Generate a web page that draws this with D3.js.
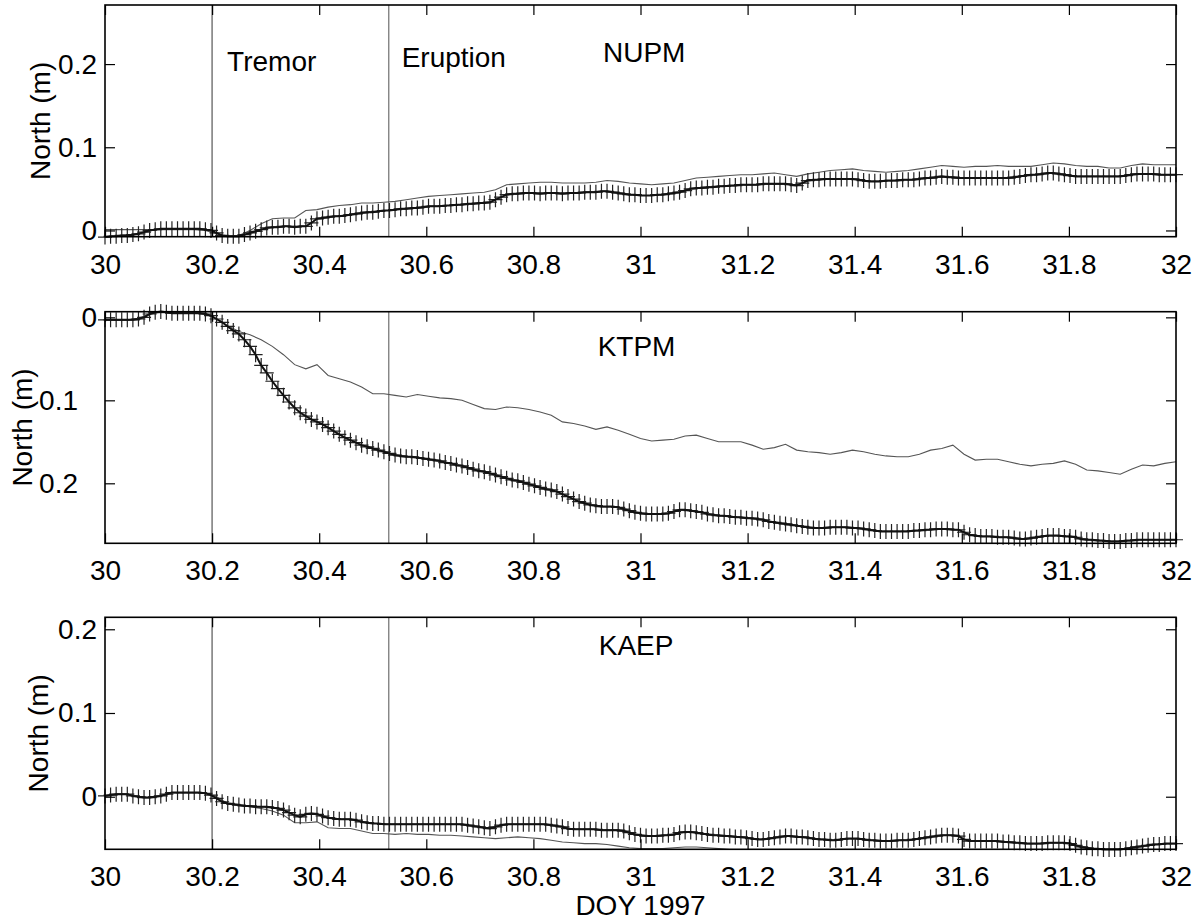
<!DOCTYPE html>
<html>
<head>
<meta charset="utf-8">
<script src="https://cdn.jsdelivr.net/npm/d3@7"></script>
<style>
body { margin: 0; background: #fff; }
text { font-family: "Liberation Sans", Arial, Helvetica, sans-serif; font-size: 28px; fill: #000; }
</style>
</head>
<body>
<div id="chart"></div>
<script>
// sampling of the two solutions, day of year 1997
const startDay = 30;
const markStep = 15 / 1440;   // "+" solution every 15 min
const lineStep = 30 / 1440;   // thin grey solution every 30 min

const eventDays = [30.2, 30.53];
const xTicks = [30, 30.2, 30.4, 30.6, 30.8, 31, 31.2, 31.4, 31.6, 31.8, 32];
const yTicks = [0, 0.1, 0.2];

// north displacement in mm (KTPM is shown on a reversed axis)
const nupmMarks = [-8,-7,-7,-6,-6,-5,-4,-2,0,1,2,2,
 2,2,2,2,2,2,1,0,-3,-6,-7,-7,
 -7,-5,-3,-1,1,3,4,4,5,5,4,5,
 5,9,14,15,16,17,17,18,19,20,21,22,
 22,23,24,24,25,26,26,27,27,28,29,29,
 29,30,30,31,31,32,32,33,33,34,37,40,
 43,44,44,45,45,45,44,45,45,45,44,45,
 45,45,46,46,46,47,47,46,45,44,43,43,
 42,42,42,43,43,44,45,46,48,50,51,51,
 52,52,53,53,54,54,55,55,55,55,56,56,
 56,56,56,55,54,57,60,61,61,62,62,62,
 62,62,62,61,60,59,59,59,60,60,60,61,
 61,61,62,63,63,64,65,64,64,63,63,63,
 63,63,63,63,63,63,63,64,65,66,67,67,
 68,69,69,68,67,66,65,65,65,65,65,65,
 65,65,65,66,67,68,68,68,68,67,67,67,67];
const nupmLine = [1,1,1,1,1,1,1,1,1,0,-4,-7,
 -6,0,8,14,15,15,24,25,28,30,31,33,
 33,34,35,37,39,41,42,43,44,45,46,49,
 55,56,57,58,58,57,57,57,58,60,59,57,
 56,55,56,57,60,63,64,65,66,67,67,68,
 69,67,65,68,70,72,73,74,72,71,70,71,
 72,74,76,78,77,76,77,77,78,77,77,77,
 79,81,80,78,77,77,75,75,78,80,79,79,79];

const ktpmMarks = [3,3,3,3,3,3,2,0,-4,-6,-7,-6,
 -5,-5,-5,-5,-5,-5,-4,-2,2,6,11,16,
 20,27,35,45,58,67,77,86,94,102,109,115,
 119,123,126,129,133,137,141,145,148,151,154,156,
 158,160,162,164,166,167,168,168,169,170,171,172,
 173,175,176,178,179,181,183,185,186,188,190,192,
 194,196,197,199,201,203,205,207,208,210,213,216,
 219,222,224,226,227,228,228,228,229,231,233,235,
 236,237,237,237,237,236,234,232,232,233,234,235,
 237,238,239,239,240,241,241,242,242,243,244,246,
 247,248,249,250,251,252,253,254,254,254,253,253,
 253,253,254,254,255,256,257,258,258,258,258,258,
 258,257,257,256,256,255,255,255,256,256,259,262,
 263,264,264,264,265,265,265,266,267,267,266,265,
 264,263,263,263,264,264,265,267,268,268,269,269,
 270,270,270,269,269,268,268,268,268,268,268,268,268];
const ktpmLine = [3,3,3,1,-4,-6,-5,-5,-5,-4,2,10,
 17,21,27,35,45,57,62,57,70,74,78,84,
 92,92,94,96,93,95,97,98,100,105,110,111,
 108,109,111,114,118,126,128,131,135,132,136,141,
 146,149,148,147,143,142,146,150,150,150,154,159,
 157,153,160,162,163,165,163,160,162,165,167,168,
 168,165,160,158,154,165,172,171,171,174,177,179,
 177,176,173,177,184,185,187,189,183,178,179,176,174];

const kaepMarks = [1,2,3,3,3,1,0,-1,-1,0,1,3,
 5,5,5,5,5,5,4,2,-2,-6,-8,-9,
 -10,-11,-11,-12,-12,-12,-13,-14,-16,-19,-22,-24,
 -21,-20,-21,-23,-25,-26,-27,-27,-27,-28,-30,-31,
 -32,-32,-33,-33,-33,-33,-33,-33,-33,-33,-33,-33,
 -33,-33,-33,-33,-33,-34,-35,-36,-37,-38,-36,-34,
 -33,-33,-33,-33,-33,-33,-33,-33,-34,-35,-36,-38,
 -39,-39,-39,-39,-39,-40,-40,-40,-40,-41,-43,-45,
 -46,-47,-47,-47,-46,-46,-45,-43,-42,-42,-43,-44,
 -45,-46,-46,-47,-47,-48,-48,-49,-50,-51,-51,-50,
 -49,-48,-47,-47,-48,-48,-49,-50,-51,-51,-52,-52,
 -51,-50,-50,-50,-51,-52,-52,-53,-53,-53,-52,-52,
 -52,-51,-50,-49,-48,-47,-46,-46,-46,-47,-51,-53,
 -53,-53,-53,-53,-53,-54,-54,-55,-55,-56,-56,-56,
 -56,-55,-55,-55,-55,-56,-58,-60,-61,-62,-62,-63,
 -63,-63,-63,-62,-61,-60,-59,-58,-57,-57,-56,-56,-56];
const kaepLine = [1,3,3,0,-1,1,5,5,5,5,0,-8,
 -10,-12,-14,-17,-22,-31,-31,-30,-37,-38,-38,-41,
 -44,-44,-45,-44,-45,-45,-46,-46,-47,-48,-49,-50,
 -49,-48,-49,-50,-52,-54,-55,-56,-56,-57,-59,-61,
 -62,-62,-62,-61,-60,-60,-61,-62,-63,-64,-65,-66,
 -66,-67,-67,-68,-68,-69,-69,-69,-68,-68,-69,-69,
 -69,-68,-67,-66,-65,-67,-69,-69,-69,-70,-70,-71,
 -71,-70,-70,-71,-73,-74,-75,-75,-73,-71,-70,-70,-69];

const panels = [
    {name: "NUPM", marks: nupmMarks, line: nupmLine, top: 5, bottom: 236.7,
     yDomain: [-0.0075, 0.271], reversed: false, nameAt: [30.93, 0.203], ylabelX: 40, labelShift: 0},
    {name: "KTPM", marks: ktpmMarks, line: ktpmLine, top: 311.7, bottom: 543.3,
     yDomain: [-0.0068, 0.2723], reversed: true, nameAt: [30.92, 0.047], ylabelX: 22, labelShift: 19},
    {name: "KAEP", marks: kaepMarks, line: kaepLine, top: 617.3, bottom: 849.3,
     yDomain: [-0.0628, 0.2143], reversed: false, nameAt: [30.922, 0.169], ylabelX: 38, labelShift: 0}
];

const width = 1197, height = 923;
const left = 105, right = 1176;

const svg = d3.select("#chart").append("svg")
    .attr("width", width)
    .attr("height", height)
    .style("background", "#fff");

const x = d3.scaleLinear().domain([30, 32]).range([left, right]);

panels.forEach((p, k) => {
    const y = d3.scaleLinear()
        .domain(p.yDomain)
        .range(p.reversed ? [p.top, p.bottom] : [p.bottom, p.top]);

    const g = svg.append("g").attr("class", "panel");

    // clip for the thin line
    svg.append("clipPath").attr("id", "clip" + k)
        .append("rect")
        .attr("x", left).attr("y", p.top)
        .attr("width", right - left).attr("height", p.bottom - p.top);

    // tremor / eruption onset
    g.selectAll(".event")
        .data(eventDays)
        .enter().append("line")
        .attr("class", "event")
        .attr("x1", d => x(d)).attr("x2", d => x(d))
        .attr("y1", p.top).attr("y2", p.bottom)
        .attr("stroke", (d, i) => i == 0 ? "#808080" : "#505050")
        .attr("stroke-width", (d, i) => i == 0 ? 1.6 : 1);

    // other solution, thin grey line
    const lineData = p.line.map((v, i) => [startDay + i * lineStep, v / 1000]);
    g.append("path")
        .datum(lineData)
        .attr("clip-path", "url(#clip" + k + ")")
        .attr("fill", "none")
        .attr("stroke", "#555")
        .attr("stroke-width", 1.1)
        .attr("d", d3.line().x(d => x(d[0])).y(d => y(d[1])));

    // "+" markers
    const markData = p.marks.map((v, i) => [startDay + i * markStep, v / 1000]);
    g.selectAll(".mark")
        .data(markData)
        .enter().append("path")
        .attr("class", "mark")
        .attr("fill", "none")
        .attr("stroke", "#222")
        .attr("stroke-width", 1.2)
        .attr("d", d => {
            let cx = x(d[0]), cy = y(d[1]);
            return "M" + (cx - 7) + "," + cy + "H" + (cx + 7) +
                "M" + cx + "," + (cy - 7.5) + "V" + (cy + 7.5);
        });

    g.append("path")
        .datum(markData)
        .attr("fill", "none")
        .attr("stroke", "#111")
        .attr("stroke-width", 2)
        .attr("d", d3.line().x(d => x(d[0])).y(d => y(d[1])));

    // axes, ticks pointing inward on all four sides
    g.append("g")
        .attr("transform", "translate(0," + p.bottom + ")")
        .call(d3.axisBottom(x).tickValues(xTicks).tickSize(-10).tickPadding(17).tickFormat(d => d))
        .call(a => a.select(".domain").remove())
        .call(a => a.selectAll("text").style("font-size", "28px").attr("fill", "#000"));

    g.append("g")
        .attr("transform", "translate(0," + p.top + ")")
        .call(d3.axisTop(x).tickValues(xTicks).tickSize(-10).tickFormat(""))
        .call(a => a.select(".domain").remove());

    g.append("g")
        .attr("transform", "translate(" + left + ",0)")
        .call(d3.axisLeft(y).tickValues(yTicks).tickSize(-10).tickPadding(8).tickFormat(d => d))
        .call(a => a.select(".domain").remove())
        .call(a => a.selectAll("text")
            .style("font-size", "28px").attr("fill", "#000")
            .attr("x", d => d == 0 ? -8 : -8 - p.labelShift));

    g.append("g")
        .attr("transform", "translate(" + right + ",0)")
        .call(d3.axisRight(y).tickValues(yTicks).tickSize(-10).tickFormat(""))
        .call(a => a.select(".domain").remove());

    g.selectAll(".tick line").attr("stroke", "#000").attr("stroke-width", 1.2);

    g.append("rect")
        .attr("x", left).attr("y", p.top)
        .attr("width", right - left).attr("height", p.bottom - p.top)
        .attr("fill", "none")
        .attr("stroke", "#000")
        .attr("stroke-width", 1.6);

    g.append("text")
        .attr("transform", "translate(" + p.ylabelX + "," + ((p.top + p.bottom) / 2) + ") rotate(-90)")
        .attr("text-anchor", "middle")
        .attr("dy", "0.35em")
        .text("North (m)");

    g.append("text")
        .attr("x", x(p.nameAt[0]))
        .attr("y", y(p.nameAt[1]))
        .text(p.name);

    if (k == 0) {
        g.append("text").attr("x", x(30.228)).attr("y", y(0.192)).text("Tremor");
        g.append("text").attr("x", x(30.554)).attr("y", y(0.197)).text("Eruption");
    }
});

svg.append("text")
    .attr("x", (left + right) / 2)
    .attr("y", 915)
    .attr("text-anchor", "middle")
    .text("DOY 1997");
</script>
</body>
</html>
